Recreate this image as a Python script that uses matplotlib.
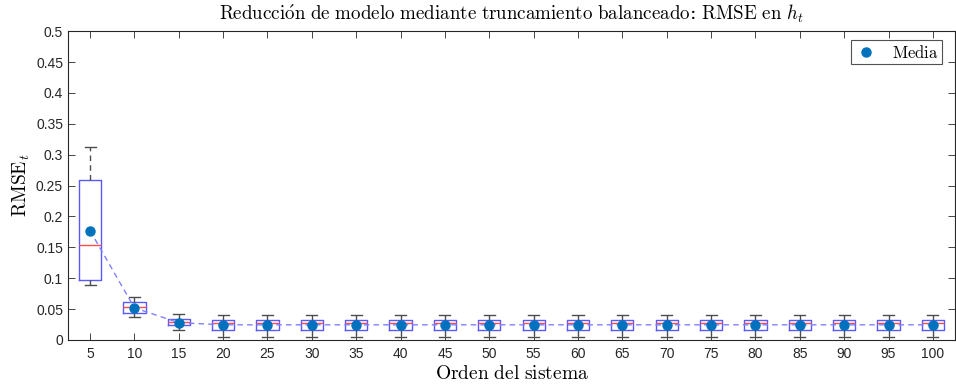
"""Boxplot of RMSE vs. reduced system order (balanced truncation), MATLAB-like style."""

import numpy as np
import matplotlib
matplotlib.use("Agg")
import matplotlib.pyplot as plt

# ============================================================
# Data
# ============================================================
orders = [5, 10, 15, 20, 25, 30, 35, 40, 45, 50, 55, 60, 65, 70, 75, 80, 85, 90, 95, 100]
whisker_low = [0.089, 0.037, 0.016] + [0.005] * 17
q1 = [0.097, 0.044, 0.024] + [0.016] * 17
medians = [0.153, 0.053, 0.029] + [0.027] * 17
q3 = [0.259, 0.061, 0.034] + [0.032] * 17
whisker_high = [0.313, 0.069, 0.042] + [0.040] * 17
means = [0.177, 0.052, 0.028] + [0.0245] * 17

plt.rcParams['mathtext.fontset'] = 'cm'
plt.rcParams['font.family'] = ['Liberation Sans', 'DejaVu Sans']

fig = plt.figure(figsize=(9.56, 3.85), dpi=100)
ax = fig.add_axes([0.071, 0.117, 0.928, 0.802])

positions = np.arange(1, len(orders) + 1)

stats = []
for i in range(len(orders)):
    stats.append({
        "whislo": whisker_low[i], "q1": q1[i], "med": medians[i],
        "q3": q3[i], "whishi": whisker_high[i], "fliers": [],
    })

ax.bxp(stats, positions=positions, widths=0.5, capwidths=0.25,
       showfliers=False, patch_artist=False,
       boxprops=dict(color=(0.35, 0.35, 1.0), linewidth=1.0),
       medianprops=dict(color=(1.0, 0.3, 0.3), linewidth=1.0),
       whiskerprops=dict(color=(0.3, 0.3, 0.3), linewidth=1.0, linestyle=(0, (4, 3))),
       capprops=dict(color=(0.3, 0.3, 0.3), linewidth=1.0))

# Mean trend line + markers
ax.plot(positions, means, linestyle=(0, (4, 3)), color=(0.5, 0.5, 1.0), linewidth=1.0, zorder=3)
ax.plot(positions, means, linestyle='none', marker='o', markersize=6.5,
        color=(0.0, 0.447, 0.741), label=r'$\mathrm{Media}$', zorder=4)

# -------------------- Axes styling --------------------
ax.set_xlim(0.5, 20.5)
ax.set_ylim(0, 0.5)
ax.set_xticks(positions)
ax.set_xticklabels([str(o) for o in orders])
yt = np.round(np.arange(0, 0.501, 0.05), 2)
ax.set_yticks(yt)
ax.set_yticklabels(['0' if v == 0 else f"{v:g}" for v in yt])

gray = (0.15, 0.15, 0.15)
for sp in ax.spines.values():
    sp.set_color(gray)
    sp.set_linewidth(0.8)
ax.tick_params(direction='in', length=5, width=0.6, colors=gray, labelsize=10,
               top=True, right=True)
ax.tick_params(axis='x', pad=5)

title = (r'$\mathrm{Reducci\acute{o}n\ de\ modelo\ mediante\ truncamiento\ balanceado}$'
         r':$\ \mathrm{RMSE\ en}\ h_t$')
ax.set_title(title, fontsize=13.7, pad=8, family='DejaVu Serif')
ax.set_xlabel(r'$\mathrm{Orden\ del\ sistema}$', fontsize=14, labelpad=3)
ax.set_ylabel(r'$\mathrm{RMSE}_t$', fontsize=14, labelpad=3)

leg = ax.legend(loc='upper right', fontsize=12, frameon=True, fancybox=False,
                handletextpad=0.8, borderpad=0.2, handlelength=1.5,
                bbox_to_anchor=(0.995, 0.997))
leg.get_frame().set_edgecolor(gray)
leg.get_frame().set_linewidth(0.8)

plt.savefig("out.png", dpi=100)
plt.close(fig)
